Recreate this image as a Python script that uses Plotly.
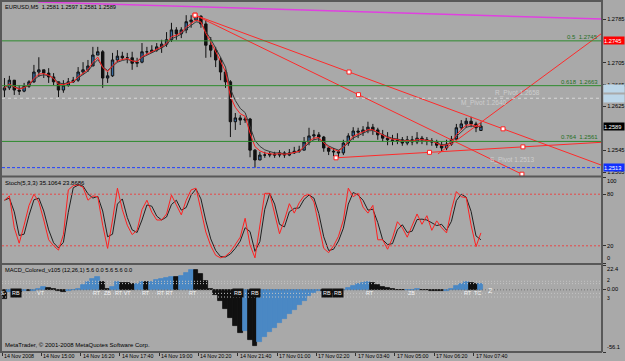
import plotly.graph_objects as go
import pandas as pd

# ---------------- data (10-minute candles, EURUSD) ----------------
open_ = [1.2655,1.2659,1.2673,1.2655,1.2653,1.2662,1.2670,1.2688,1.2692,1.2686,
         1.2679,1.2670,1.2655,1.2664,1.2670,1.2673,1.2688,1.2692,1.2699,1.2719,
         1.2725,1.2677,1.2681,1.2710,1.2717,1.2714,1.2714,1.2704,1.2706,1.2725,
         1.2725,1.2728,1.2734,1.2739,1.2747,1.2765,1.2758,1.2765,1.2780,1.2783,
         1.2790,1.2776,1.2737,1.2728,1.2710,1.2688,1.2670,1.2597,1.2604,1.2600,
         1.2602,1.2545,1.2527,1.2536,1.2536,1.2538,1.2536,1.2540,1.2536,1.2540,
         1.2543,1.2545,1.2560,1.2571,1.2573,1.2569,1.2549,1.2543,1.2542,1.2540,
         1.2558,1.2571,1.2580,1.2578,1.2582,1.2587,1.2582,1.2573,1.2567,1.2564,
         1.2562,1.2564,1.2558,1.2564,1.2560,1.2567,1.2564,1.2562,1.2560,1.2554,
         1.2549,1.2556,1.2565,1.2586,1.2593,1.2598,1.2593,1.2581]
high = [1.2677,1.2681,1.2664,1.2664,1.2668,1.2673,1.2701,1.2715,1.2692,1.2695,
        1.2686,1.2668,1.2673,1.2677,1.2679,1.2697,1.2706,1.2710,1.2734,1.2734,
        1.2728,1.2688,1.2723,1.2728,1.2725,1.2723,1.2725,1.2714,1.2741,1.2734,
        1.2737,1.2741,1.2747,1.2761,1.2778,1.2770,1.2770,1.2792,1.2792,1.2796,
        1.2792,1.2783,1.2752,1.2734,1.2715,1.2692,1.2673,1.2613,1.2609,1.2606,
        1.2604,1.2547,1.2542,1.2542,1.2543,1.2542,1.2545,1.2543,1.2547,1.2551,
        1.2553,1.2569,1.2586,1.2582,1.2578,1.2571,1.2551,1.2549,1.2545,1.2564,
        1.2576,1.2587,1.2586,1.2589,1.2597,1.2593,1.2586,1.2582,1.2578,1.2573,
        1.2576,1.2569,1.2571,1.2571,1.2578,1.2571,1.2569,1.2567,1.2564,1.2560,
        1.2564,1.2571,1.2593,1.2600,1.2604,1.2606,1.2597,1.2597]
low = [1.2642,1.2655,1.2646,1.2646,1.2651,1.2659,1.2668,1.2679,1.2677,1.2668,
       1.2664,1.2642,1.2650,1.2661,1.2668,1.2670,1.2683,1.2688,1.2704,1.2719,
       1.2659,1.2668,1.2679,1.2706,1.2710,1.2704,1.2692,1.2697,1.2704,1.2719,
       1.2723,1.2725,1.2723,1.2734,1.2743,1.2747,1.2750,1.2759,1.2769,1.2783,
       1.2769,1.2714,1.2715,1.2697,1.2673,1.2659,1.2569,1.2582,1.2591,1.2595,
       1.2532,1.2513,1.2527,1.2531,1.2532,1.2531,1.2532,1.2531,1.2534,1.2538,
       1.2540,1.2545,1.2554,1.2564,1.2560,1.2542,1.2536,1.2534,1.2531,1.2536,
       1.2553,1.2564,1.2567,1.2571,1.2576,1.2573,1.2564,1.2560,1.2554,1.2554,
       1.2556,1.2553,1.2554,1.2554,1.2556,1.2556,1.2554,1.2553,1.2549,1.2542,
       1.2545,1.2553,1.2567,1.2582,1.2586,1.2587,1.2578,1.2581]
close = [1.2659,1.2673,1.2655,1.2653,1.2662,1.2670,1.2688,1.2692,1.2686,1.2679,
         1.2670,1.2655,1.2664,1.2670,1.2673,1.2688,1.2692,1.2699,1.2719,1.2725,
         1.2677,1.2681,1.2710,1.2717,1.2714,1.2714,1.2704,1.2706,1.2725,1.2725,
         1.2728,1.2734,1.2739,1.2747,1.2765,1.2758,1.2765,1.2780,1.2783,1.2790,
         1.2776,1.2737,1.2728,1.2710,1.2688,1.2670,1.2597,1.2604,1.2600,1.2602,
         1.2545,1.2527,1.2536,1.2536,1.2538,1.2536,1.2540,1.2536,1.2540,1.2543,
         1.2545,1.2560,1.2571,1.2573,1.2569,1.2549,1.2543,1.2542,1.2540,1.2558,
         1.2571,1.2580,1.2578,1.2582,1.2587,1.2582,1.2573,1.2567,1.2564,1.2562,
         1.2564,1.2558,1.2564,1.2560,1.2567,1.2564,1.2562,1.2560,1.2554,1.2549,
         1.2556,1.2565,1.2586,1.2593,1.2598,1.2593,1.2586,1.2589]

stoch_k = [73,78,41,23,44,67,80,71,50,27,
           20,15,33,85,90,91,88,73,78,77,
           44,17,50,87,62,44,33,38,62,73,
           59,50,50,57,79,67,56,73,85,87,
           62,36,20,9,6,8,13,21,30,52,
           21,6,44,81,81,56,34,50,69,58,
           70,78,80,71,44,17,12,20,31,50,
           87,77,81,65,58,67,27,27,16,29,
           48,41,30,44,57,45,55,38,49,41,
           35,62,83,77,76,44,19,35]

macd = [-8,-2,-1,-2,-1,-1.5,-1,1,3,2,
        1,-1.5,-2,-1,-0.5,1,4,7,10,12,
        7,1,3,7,6.5,6,5,5.5,7,6.8,
        7.5,8.5,10,11,12,11.5,12.5,15,18,17.5,
        14,8,0.5,-5,-10,-17,-25,-33,-39,-37,
        -45,-51,-47,-43,-38,-34,-30,-26,-22,-18,
        -14,-10,-6,-3,-1,-1.5,-2,-2.5,-1.5,0,
        2,3.5,5,6,7,6.5,4.5,3,1.5,0.5,
        0,-0.5,-0.5,-0.3,0.3,0,-0.5,-0.8,-1,-1.3,
        -0.8,1,3.5,5.5,7,6.5,5,5.6]

# time axis (M5 bar index) and labels
tick_idx = [0,16,32,48,64,80,96,112,128,144,160,176,192]
tick_text = ["14 Nov 2008","14 Nov 15:00","14 Nov 16:20","14 Nov 17:40","14 Nov 19:00",
             "14 Nov 20:20","14 Nov 21:40","17 Nov 01:00","17 Nov 02:20","17 Nov 03:40",
             "17 Nov 05:00","17 Nov 06:20","17 Nov 07:40"]
price_ticks = [1.2785,1.2705,1.2665,1.2625,1.2545,1.2505]

fib_levels = [1.2745, 1.2663, 1.2561]
fib_text = ["0.5  1.2745", "0.618  1.2663", "0.764  1.2561"]
low_line = 1.2513
pivot_line = 1.2640
pivot_labels = [("R_Pivot 1.2658", 200, 1.2650), ("M_Pivot 1.2640", 186, 1.2632), ("S_Pivot 1.2513", 198, 1.2527)]

# trend lines: anchor points (bar index, price)
magenta_pts = ([14.7, 244.3], [1.2816, 1.2785])
trend_A = ([78.6, 204.0], [1.2792, 1.2584])      # ray
trend_B = ([78.6, 211.7], [1.2792, 1.2501])      # segment
trend_C = ([136.0, 212.1], [1.2531, 1.2551])     # ray
trend_D = ([177.5, 244.3], [1.2538, 1.2759])     # segment

macd_marks = [(0.4,"S"),(5.7,"RB"),(15.9,"VT"),(38.7,"RT"),(42.8,"ZB"),(49.3,"RT VT"),
              (58.6,"RT"),(66.4,"RT RT"),(77.8,"RT"),(96.1,"RB"),(103,"RB"),(132.3,"RB"),
              (136.8,"RB"),(149.8,"RT"),(166.9,"ZB"),(189.7,"RT"),(193.8,"TC")]

# ---------------- figure ----------------
W, H = 625, 361
BG = "#a9a9a9"
XMAX = 244.3
FONT = "Liberation Sans"

def fx(px):
    return px / W

def fy(px):
    return 1 - px / H

xs = [2 * k + 1 for k in range(len(close))]
ma_fast = pd.Series(close).ewm(span=3, adjust=False).mean()
ma_slow = pd.Series(close).ewm(span=4, adjust=False).mean()
stoch_d = pd.Series(stoch_k).rolling(2, min_periods=1).mean()
macd_colors = ["#101010"] + ["#4a88c4" if macd[i] >= macd[i - 1] else "#101010" for i in range(1, len(macd))]

fig = go.Figure()

# main panel
fig.add_trace(go.Candlestick(x=xs, open=open_, high=high, low=low, close=close,
                             increasing=dict(line=dict(color="#101010", width=1), fillcolor="#3a6ea5"),
                             decreasing=dict(line=dict(color="#101010", width=1), fillcolor="#101010"),
                             xaxis="x", yaxis="y", hoverinfo="skip"))
fig.add_trace(go.Scatter(x=xs, y=ma_slow, mode="lines", line=dict(color="#3a3a3a", width=1), yaxis="y"))
fig.add_trace(go.Scatter(x=xs, y=ma_fast, mode="lines", line=dict(color="#ff2020", width=1), yaxis="y"))

def ray(pts, xend):
    (x0, x1), (y0, y1) = pts
    s = (y1 - y0) / (x1 - x0)
    return [x0, xend], [y0, y0 + s * (xend - x0)]

fig.add_trace(go.Scatter(x=magenta_pts[0], y=magenta_pts[1], mode="lines", line=dict(color="#e040e0", width=1.5), yaxis="y"))
for pts, is_ray in [(trend_A, True), (trend_B, False), (trend_C, True), (trend_D, False)]:
    lx, ly = ray(pts, XMAX) if is_ray else pts
    fig.add_trace(go.Scatter(x=lx, y=ly, mode="lines", line=dict(color="#ff2a2a", width=1), yaxis="y"))
mx, my = [], []
for pts in [trend_A, trend_B, trend_C]:
    (x0, x1), (y0, y1) = pts
    mx += [x0, (x0 + x1) / 2, x1]
    my += [y0, (y0 + y1) / 2, y1]
fig.add_trace(go.Scatter(x=mx, y=my, mode="markers", yaxis="y",
                         marker=dict(symbol="square", size=4, color="white", line=dict(color="#ff2020", width=1))))

# stochastic panel
fig.add_trace(go.Scatter(x=xs, y=stoch_d, mode="lines", line=dict(color="#202020", width=1), yaxis="y2"))
fig.add_trace(go.Scatter(x=xs, y=stoch_k, mode="lines", line=dict(color="#ff2020", width=1), yaxis="y2"))

# MACD panel
fig.add_trace(go.Bar(x=xs, y=macd, width=2, marker=dict(color=macd_colors, line=dict(width=0.8, color=macd_colors)), yaxis="y3"))

shapes = []
x0p, x1p = fx(2), fx(602)
for lv in fib_levels:
    shapes.append(dict(type="line", xref="paper", yref="y", x0=x0p, x1=x1p, y0=lv, y1=lv, line=dict(color="#2e8b2e", width=1)))
shapes.append(dict(type="line", xref="paper", yref="y", x0=x0p, x1=x1p, y0=low_line, y1=low_line, line=dict(color="#2040ff", width=1, dash="3px,2px")))
shapes.append(dict(type="line", xref="paper", yref="y", x0=x0p, x1=x1p, y0=pivot_line, y1=pivot_line, line=dict(color="#d8d8d8", width=1, dash="3px,3px")))
for lv in [80, 20]:
    shapes.append(dict(type="line", xref="paper", yref="y2", x0=x0p, x1=x1p, y0=lv, y1=lv, line=dict(color="#e84848", width=1, dash="2px,2px")))
for lv in [7.7, 5.6, -3.2, -6.5]:
    shapes.append(dict(type="line", xref="paper", yref="y3", x0=x0p, x1=x1p, y0=lv, y1=lv, line=dict(color="#c4c4c4", width=1, dash="1px,2px")))
shapes.append(dict(type="line", xref="paper", yref="y3", x0=x0p, x1=x1p, y0=0, y1=0, line=dict(color="#707070", width=1, dash="1px,2px")))
# frame / separators
BC = "#585858"
for y in [1, 176.5, 264, 352]:
    shapes.append(dict(type="line", xref="paper", yref="paper", x0=fx(0), x1=fx(602), y0=fy(y), y1=fy(y), line=dict(color=BC, width=2)))
for x in [1, 602]:
    shapes.append(dict(type="line", xref="paper", yref="paper", x0=fx(x), x1=fx(x), y0=fy(0), y1=fy(352), line=dict(color=BC, width=2)))

ann = []
def font(size, color="black"):
    return dict(family=FONT, size=size, color=color)

ann.append(dict(xref="paper", yref="paper", x=fx(3), y=fy(7), xanchor="left", yanchor="middle", showarrow=False,
                text="EURUSD,M5  1.2581 1.2597 1.2581 1.2589", font=font(5.7)))
ann.append(dict(xref="paper", yref="paper", x=fx(3), y=fy(183), xanchor="left", yanchor="middle", showarrow=False,
                text="Stoch(5,3,3) 35.1064 23.8686", font=font(6)))
ann.append(dict(xref="paper", yref="paper", x=fx(3), y=fy(270), xanchor="left", yanchor="middle", showarrow=False,
                text="MACD_Colored_v105 (12,26,1) 5.6 0.0 5.6 5.6 0.0", font=font(5.7)))
ann.append(dict(xref="paper", yref="paper", x=fx(3), y=fy(345), xanchor="left", yanchor="middle", showarrow=False,
                text="MetaTrader, © 2001-2008 MetaQuotes Software Corp.", font=font(6)))
for lv, t in zip(fib_levels, fib_text):
    ann.append(dict(xref="paper", yref="y", x=fx(600), y=lv, xanchor="right", yanchor="bottom", yshift=-1, showarrow=False,
                    text=t, font=font(6, "#1f6f1f")))
for t, xi, pv in pivot_labels:
    ann.append(dict(xref="x", yref="y", x=xi, y=pv, xanchor="left", yanchor="middle", showarrow=False,
                    text=t, font=font(6.5, "#cdcdcd")))
# price boxes on the right scale
for val, txt, bg, fc in [(1.2745, "1.2745", "#ff0000", "white"), (1.2658, "", "#bcd6e8", "#e8f0f8"),
                         (1.2640, "", "#bcd6e8", "#e8f0f8"), (close[-1], "1.2589", "#000000", "white"),
                         (low_line, "1.2513", "#1030ff", "white")]:
    ann.append(dict(xref="paper", yref="y", x=fx(603), y=val, xanchor="left", yanchor="middle", showarrow=False,
                    text=txt if txt else " ", bgcolor=bg, width=20, height=7, borderpad=0, align="left",
                    font=font(5.7, fc)))
# stoch / macd scale labels
for txt, ypx in [("100", 181), ("80", 194), ("20", 246), ("0", 258), ("22.4", 269), ("0.00", 289), ("-56.1", 347)]:
    ann.append(dict(xref="paper", yref="paper", x=fx(605), y=fy(ypx), xanchor="left", yanchor="middle", showarrow=False,
                    text=txt, font=font(5.7)))
for txt, ypx in [("2", 280), ("3", 298)]:
    ann.append(dict(xref="paper", yref="paper", x=fx(605), y=fy(ypx), xanchor="left", yanchor="middle", showarrow=False,
                    text=txt, font=font(5)))
for xi, t in macd_marks:
    ann.append(dict(xref="x", yref="y3", x=xi, y=-3, xanchor="center", yanchor="middle", showarrow=False,
                    text=t, font=font(5.5, "#f4f4f4"),
                    bgcolor="#101010" if t == "RB" else None))
ann.append(dict(xref="x", yref="y3", x=197, y=-1, xanchor="left", yanchor="middle", showarrow=False,
                text="2", font=font(8, "#f4f4f4")))
# time labels
for ti, tt in zip(tick_idx, tick_text):
    ann.append(dict(xref="x", yref="paper", x=ti, y=fy(356), xanchor="left", yanchor="middle", showarrow=False,
                    xshift=0, text=tt, font=font(5.3)))

axis_common = dict(showgrid=False, zeroline=False, showline=False, fixedrange=True)
fig.update_layout(
    width=W, height=H, margin=dict(l=0, r=0, t=0, b=0),
    paper_bgcolor=BG, plot_bgcolor=BG, showlegend=False, bargap=0,
    xaxis=dict(domain=[fx(2), fx(602)], range=[0, XMAX], anchor="y3", tickvals=tick_idx,
               ticks="outside", ticklen=3, tickcolor="#303030", showticklabels=False,
               rangeslider=dict(visible=False), **axis_common),
    yaxis=dict(domain=[fy(176), fy(2)], range=[1.24977, 1.28161], side="right", anchor="x",
               tickvals=price_ticks, tickformat=".4f", ticks="outside", ticklen=3, tickcolor="#303030",
               tickfont=font(5.7), **axis_common),
    yaxis2=dict(domain=[fy(263), fy(177)], range=[0, 100], side="right", anchor="x",
                tickvals=[100, 80, 20, 0], ticks="outside", ticklen=3, tickcolor="#303030",
                showticklabels=False, **axis_common),
    yaxis3=dict(domain=[fy(352), fy(265)], range=[-56.1, 22.4], side="right", anchor="x",
                tickvals=[22.4, 0, -56.1], ticks="outside", ticklen=3, tickcolor="#303030",
                showticklabels=False, **axis_common),
    shapes=shapes, annotations=ann,
)

fig.write_html("out.html")
